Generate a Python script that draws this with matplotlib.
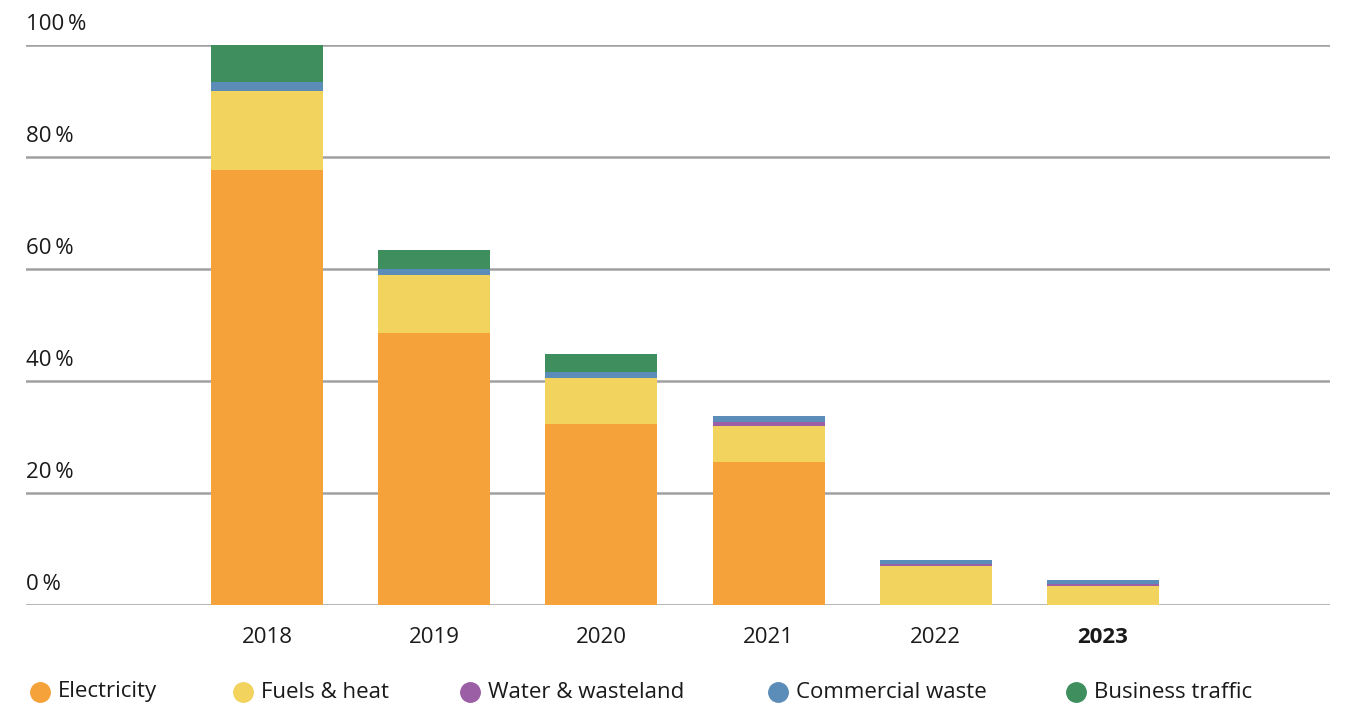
import matplotlib
matplotlib.use("Agg")
import matplotlib.pyplot as plt
import numpy as np

years = ["2018", "2019", "2020", "2021", "2022", "2023"]
series_names = ["Electricity", "Fuels & heat", "Water & wasteland", "Commercial waste", "Business traffic"]
electricity = [77.7, 48.6, 32.3, 25.5, 0.0, 0.0]
fuels_heat = [14.1, 10.3, 8.2, 6.4, 7.0, 3.4]
water_wasteland = [0.0, 0.0, 0.0, 0.7, 0.36, 0.36]
commercial_waste = [1.65, 1.07, 1.07, 1.07, 0.7, 0.7]
business_traffic = [6.55, 3.4, 3.2, 0.0, 0.0, 0.0]
yticks = [0, 20, 40, 60, 80, 100]
ytick_labels = ["0 %", "20 %", "40 %", "60 %", "80 %", "100 %"]

colors = ["#F5A23A", "#F2D35E", "#9B5FA5", "#5B8DB8", "#3E8E5E"]

plt.rcParams['font.family'] = ['Open Sans', 'DejaVu Sans']

fig = plt.figure(figsize=(13.45, 7.09), dpi=100)
ax = fig.add_axes([26/1345, 1 - 605/709, (1330 - 26)/1345, (605 - 45)/709])

x = np.arange(len(years))
data = [electricity, fuels_heat, water_wasteland, commercial_waste, business_traffic]
bottom = np.zeros(len(years))
for vals, c in zip(data, colors):
    v = np.array(vals)
    ax.bar(x, v, bottom=bottom, width=0.67, color=c, linewidth=0, zorder=3)
    bottom += v

ax.set_xlim(-1.441, 6.358)
ax.set_ylim(0, 100)
for t in yticks:
    ax.axhline(t, color="#a0a0a0", linewidth=1.8, zorder=1)
for t, lab in zip(yticks, ytick_labels):
    ax.annotate(lab.replace(" ", "\u2009"), xy=(0, t), xycoords=("axes fraction", "data"),
                xytext=(0, 7), textcoords="offset points", ha="left", va="bottom",
                fontsize=16, color="#1a1a1a")

ax.set_xticks(x)
ax.set_xticklabels(years, fontsize=16, color="#1a1a1a")
ax.get_xticklabels()[-1].set_fontweight("bold")
ax.tick_params(axis="x", length=0, pad=16)
ax.set_yticks([])
for s in ax.spines.values():
    s.set_visible(False)

# legend
circle_x = [40, 243, 470, 778, 1076]
ly = 1 - 692/709
for cx, name, c in zip(circle_x, series_names, colors):
    fig.lines.append(plt.Line2D([cx/1345], [ly], marker="o", markersize=14, color=c,
                                linestyle="none", transform=fig.transFigure))
    fig.text((cx + 18)/1345, ly, name, ha="left", va="center", fontsize=16, color="#1a1a1a")

fig.savefig("out.png", dpi=100)
